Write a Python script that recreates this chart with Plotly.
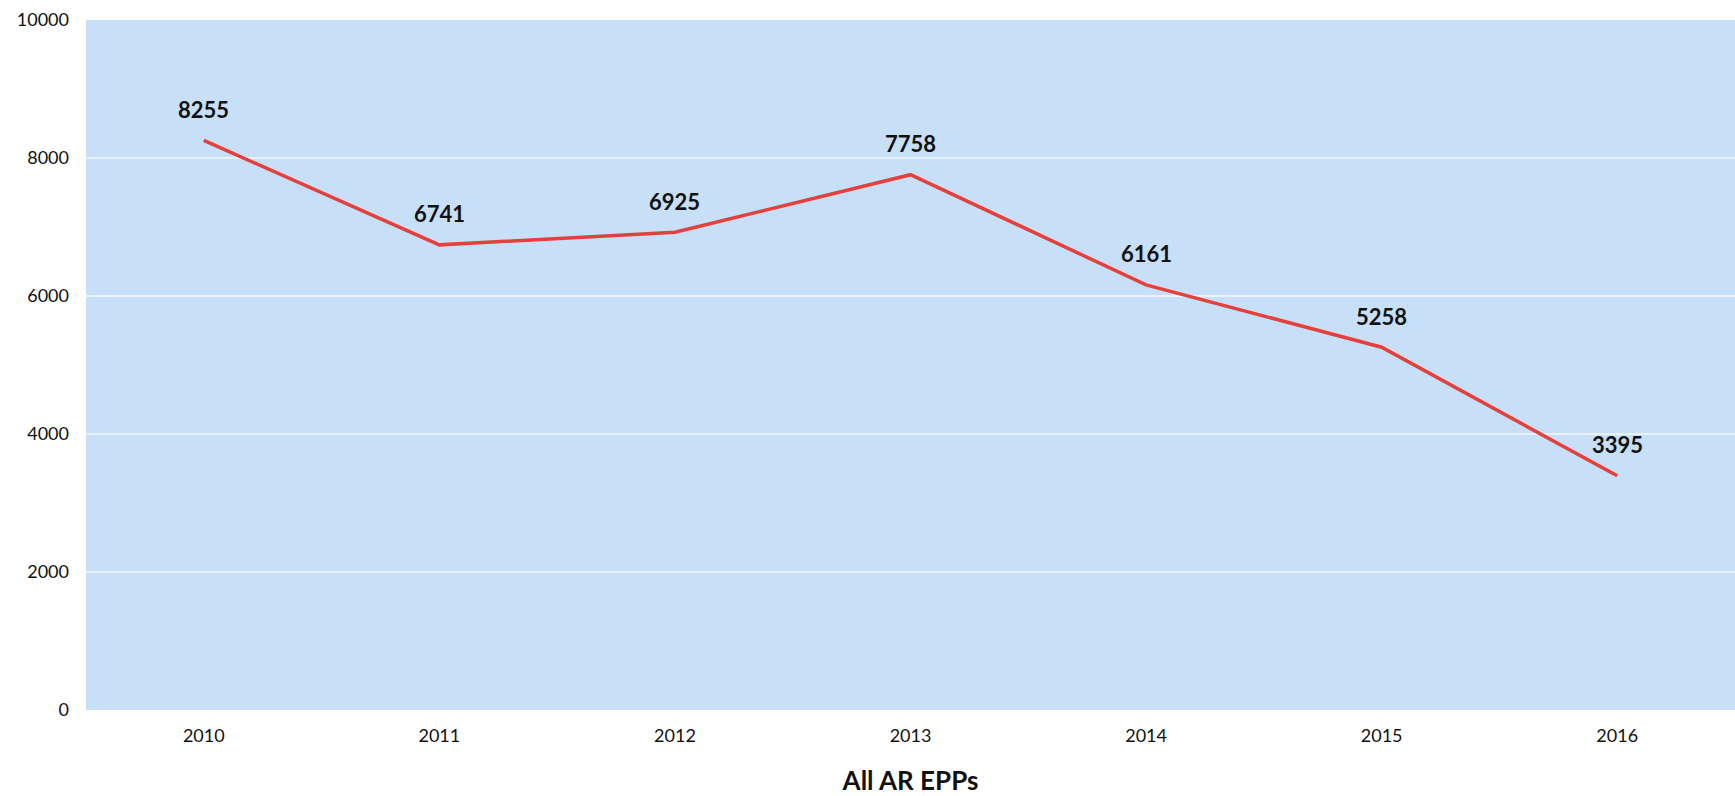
import plotly.graph_objects as go

years = ["2010", "2011", "2012", "2013", "2014", "2015", "2016"]
epp_counts = [8255, 6741, 6925, 7758, 6161, 5258, 3395]
y_ticks = [0, 2000, 4000, 6000, 8000, 10000]

fig = go.Figure()
fig.add_trace(go.Scatter(
    x=years,
    y=epp_counts,
    mode="lines",
    line=dict(color="#e5403c", width=3.5),
    hoverinfo="x+y",
    showlegend=False,
))

# value labels above each point (placed by category index)
for i, val in enumerate(epp_counts):
    fig.add_annotation(
        x=i, y=val, text=f"<b>{val}</b>", showarrow=False,
        yshift=31, font=dict(family="Lato, Open Sans, sans-serif", size=22, color="#111111"),
    )

fig.update_layout(
    width=1735, height=796,
    margin=dict(l=86, r=0, t=20, b=86),
    paper_bgcolor="white",
    plot_bgcolor="#c8dff8",
    font=dict(family="Lato, Open Sans, sans-serif", color="#111111"),
)
fig.update_xaxes(
    type="category",
    categoryorder="array", categoryarray=years,
    range=[-0.5, len(years) - 0.5],
    showgrid=False, zeroline=False, showline=False,
    ticks="", ticklabelstandoff=13,
    tickfont=dict(size=18),
    title=dict(text="<b>All AR EPPs</b>", font=dict(size=26), standoff=27),
)
fig.update_yaxes(
    range=[0, 10000],
    tickvals=y_ticks,
    ticktext=[str(v) for v in y_ticks],
    showgrid=True, gridcolor="#eaf3fd", gridwidth=2,
    zeroline=False, showline=False,
    ticks="", ticklabelstandoff=16,
    tickfont=dict(size=18),
)

fig.write_html("out.html")
